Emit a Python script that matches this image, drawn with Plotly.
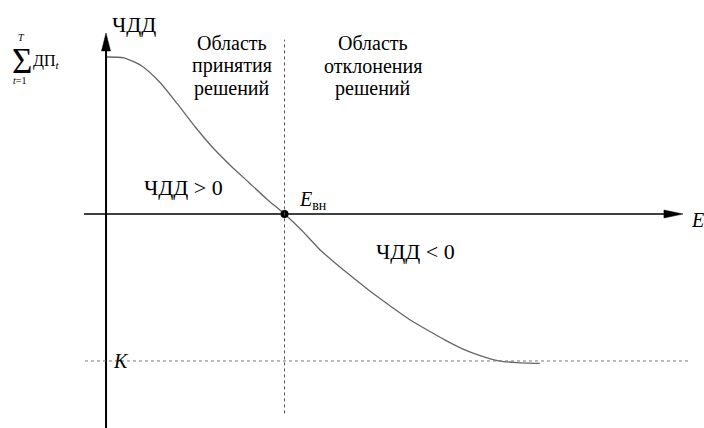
import plotly.graph_objects as go

# ---- data ----
rate_E = [0.0, 0.1, 0.2, 0.3, 0.4, 0.5, 0.6, 0.7, 0.8, 0.9, 1.0, 1.1, 1.2, 1.3,
          1.4, 1.5, 1.6, 1.7, 1.8, 1.9, 2.0, 2.1, 2.2, 2.3, 2.4, 2.43]
npv = [100.0, 99.4, 94.3, 84.1, 70.1, 55.4, 42.0, 30.6, 20.1, 9.6, 0.0, -10.8,
       -22.9, -32.8, -42.0, -51.0, -59.2, -67.2, -73.9, -80.3, -86.0, -90.3,
       -93.5, -94.7, -95.1, -95.1]
irr_E = 1.0
K_value = -93.6
sum_DP = 100.0

accept_lines = ["Область", "принятия", "решений"]
reject_lines = ["Область", "отклонения", "решений"]

W, H = 704, 428
X_RANGE = [-0.594, 3.350]
Y_RANGE = [-136.3, 136.3]

def px(x):
    return x / W

def py(y):
    return 1 - y / H

FONT = "Liberation Serif"

fig = go.Figure()

# curve
fig.add_trace(go.Scatter(x=rate_E, y=npv, mode="lines",
                         line=dict(color="#666666", width=1.3, shape="spline", smoothing=0.6),
                         hoverinfo="skip", showlegend=False))
# IRR point
fig.add_trace(go.Scatter(x=[irr_E], y=[0], mode="markers",
                         marker=dict(color="black", size=8),
                         hoverinfo="skip", showlegend=False))

shapes = []
# horizontal axis
shapes.append(dict(type="line", xref="x", yref="y", x0=-0.123, x1=3.20, y0=0, y1=0,
                   line=dict(color="black", width=1.5)))
# vertical axis
shapes.append(dict(type="line", xref="x", yref="y", x0=0, x1=0, y0=Y_RANGE[0], y1=110,
                   line=dict(color="black", width=2)))
# arrowheads
shapes.append(dict(type="path", xref="x", yref="y", xsizemode="pixel", ysizemode="pixel",
                   xanchor=3.232, yanchor=0, path="M 0 0 L -19 4 L -19 -4 Z",
                   fillcolor="black", line=dict(color="black", width=0.5)))
shapes.append(dict(type="path", xref="x", yref="y", xsizemode="pixel", ysizemode="pixel",
                   xanchor=0, yanchor=115.3, path="M 0 0 L -4.5 -18 L 4.5 -18 Z",
                   fillcolor="black", line=dict(color="black", width=0.5)))
# dotted IRR vertical
shapes.append(dict(type="line", xref="x", yref="y", x0=irr_E, x1=irr_E, y0=-127, y1=111,
                   line=dict(color="#555555", width=1, dash="dot")))
# dotted K horizontal
shapes.append(dict(type="line", xref="x", yref="y", x0=-0.118, x1=3.26, y0=K_value, y1=K_value,
                   line=dict(color="#777777", width=1, dash="dot")))

def ann(x, y, text, size=17, italic=False, xanchor="center", yanchor="middle", align="center"):
    return dict(x=px(x), y=py(y), xref="paper", yref="paper", text=text, showarrow=False,
                xanchor=xanchor, yanchor=yanchor, align=align,
                font=dict(family=FONT, size=size, color="black",
                          style="italic" if italic else "normal"))

annotations = [
    ann(134, 24, "ЧДД", size=22),
    ann(183, 187, "ЧДД &gt; 0", size=22),
    ann(415, 251, "ЧДД &lt; 0", size=22),
    ann(297, 200, "<i>E</i><sub>вн</sub>", size=20, xanchor="left"),
    ann(689, 220, "E", size=20, italic=True, xanchor="left"),
    ann(121, 361, "K", size=20, italic=True),
    # sum label
    ann(21.5, 62, "Σ", size=35),
    ann(21, 37, "T", size=10, italic=True),
    ann(19.5, 81, "<i>t</i>=1", size=10),
    ann(31, 62, "ДП<sub><i>t</i></sub>", size=16, xanchor="left"),
]
line_y = [43, 65.5, 88]
for txt, yy in zip(accept_lines, line_y):
    annotations.append(ann(232, yy, txt, size=20))
for txt, yy in zip(reject_lines, line_y):
    annotations.append(ann(373, yy, txt, size=20))

fig.update_layout(
    width=W, height=H,
    margin=dict(l=0, r=0, t=0, b=0),
    paper_bgcolor="white", plot_bgcolor="white",
    font=dict(family=FONT),
    xaxis=dict(range=X_RANGE, visible=False, fixedrange=True),
    yaxis=dict(range=Y_RANGE, visible=False, fixedrange=True),
    shapes=shapes, annotations=annotations,
    showlegend=False,
)

fig.write_html("out.html", config={"displayModeBar": False},
               post_script="document.body.style.margin='0';document.body.style.overflow='hidden';")
